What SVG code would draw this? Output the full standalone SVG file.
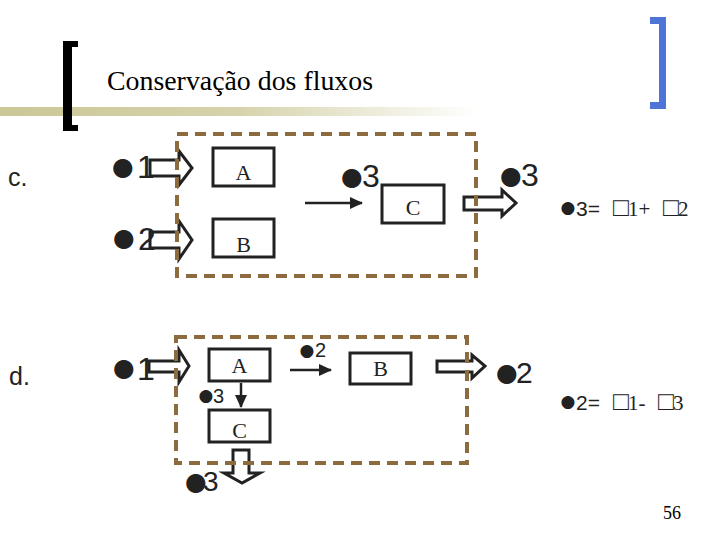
<svg xmlns="http://www.w3.org/2000/svg" width="720" height="540" viewBox="0 0 720 540">
<defs>
<linearGradient id="bar" x1="0" y1="0" x2="480" y2="0" gradientUnits="userSpaceOnUse">
<stop offset="0" stop-color="#CBC797"/>
<stop offset="0.5" stop-color="#D6D3AC"/>
<stop offset="1" stop-color="#FFFFFF"/>
</linearGradient>
<marker id="ah" markerUnits="userSpaceOnUse" markerWidth="13" markerHeight="12" refX="12" refY="6" orient="auto">
<path d="M0,0 L13,6 L0,12 Z" fill="#222"/>
</marker>
<style>
.box{fill:#fff;stroke:#222;stroke-width:3}
.blk{fill:#fff;stroke:#222;stroke-width:3;stroke-linejoin:miter}
.thin{stroke:#222;stroke-width:2.5;fill:none}
.dash{fill:none;stroke:#8C6B3E;stroke-width:4;stroke-dasharray:11 7}
.lbl{font-family:"Liberation Serif",serif;font-size:22px;fill:#222;text-anchor:middle}
.dot{font-family:"DejaVu Sans",sans-serif;fill:#222;text-anchor:middle}
.num{font-family:"Liberation Sans",Arial,sans-serif;fill:#222}
.ser{font-family:"Liberation Serif",serif;fill:#222}
</style>
</defs>
<rect width="720" height="540" fill="#fff"/>
<!-- header -->
<rect x="0" y="107" width="480" height="9" fill="url(#bar)"/>
<path d="M63,41 H78 V47 H72 V125 H78 V131 H63 Z" fill="#000"/>
<path d="M650,17 H666 V109 H650 V102 H659 V24 H650 Z" fill="#4F74D8"/>
<text x="107" y="90" font-family="Liberation Serif,serif" font-size="27" textLength="266" lengthAdjust="spacingAndGlyphs" fill="#000">Conservação dos fluxos</text>
<text x="8" y="186" class="num" font-size="25">c.</text>
<text x="9" y="385" class="num" font-size="25">d.</text>

<g id="connectors">
<path class="blk" d="M150,160 H179 V151 L192,168 L179,185 V176 H150 Z"/>
<path class="blk" d="M150,232 H179 V221 L192,240 L179,259 V248 H150 Z"/>
<path class="blk" d="M464,197 H502 V190 L516,203 L502,216 V210 H464 Z"/>
<line class="thin" x1="305" y1="203" x2="362" y2="203" marker-end="url(#ah)"/>
<path class="blk" d="M149,361 H179 V350 L189,366 L179,382 V372 H149 Z"/>
<path class="blk" d="M437,361 H472 V355 L485,366 L472,378 V372 H437 Z"/>
<path class="blk" d="M233,450 H249 V473 H260 L242,483 L224,473 H233 Z"/>
<line class="thin" x1="290" y1="370" x2="331" y2="370" marker-end="url(#ah)"/>
<line class="thin" x1="241" y1="383" x2="241" y2="407" marker-end="url(#ah)"/>
</g>

<g id="nodeA_c"><rect class="box" x="213" y="148" width="61" height="38"/><text class="lbl" x="243.5" y="180">A</text></g>
<g id="nodeB_c"><rect class="box" x="213" y="219" width="61" height="38"/><text class="lbl" x="243.5" y="252">B</text></g>
<g id="nodeC_c"><rect class="box" x="382" y="185" width="62" height="38"/><text class="lbl" x="413" y="215">C</text></g>
<g id="nodeA_d"><rect class="box" x="209" y="349" width="61" height="32"/><text class="lbl" x="239.5" y="373">A</text></g>
<g id="nodeB_d"><rect class="box" x="350" y="353" width="61" height="31"/><text class="lbl" x="380.5" y="376">B</text></g>
<g id="nodeC_d"><rect class="box" x="209" y="410" width="61" height="32"/><text class="lbl" x="239.5" y="438">C</text></g>

<g id="system_c"><rect class="dash" x="177" y="134" width="299" height="142"/></g>
<g id="system_d"><rect class="dash" x="176" y="337" width="291" height="126"/></g>

<g id="flow_labels">
<text><tspan class="dot" x="123" y="175" font-size="25">●</tspan><tspan class="num" x="137" y="178" font-size="32">1</tspan></text>
<text><tspan class="dot" x="124" y="246" font-size="25">●</tspan><tspan class="num" x="138" y="250" font-size="32">2</tspan></text>
<text><tspan class="dot" x="352" y="185" font-size="25">●</tspan><tspan class="num" x="362" y="187" font-size="32">3</tspan></text>
<text><tspan class="dot" x="511" y="184" font-size="25">●</tspan><tspan class="num" x="521" y="186" font-size="32">3</tspan></text>
<text><tspan class="dot" x="124" y="376" font-size="25">●</tspan><tspan class="num" x="137" y="380" font-size="32">1</tspan></text>
<text><tspan class="dot" x="307" y="356" font-size="17">●</tspan><tspan class="num" x="315" y="357" font-size="20">2</tspan></text>
<text><tspan class="dot" x="206" y="401" font-size="17">●</tspan><tspan class="num" x="213" y="403" font-size="20">3</tspan></text>
<text><tspan class="dot" x="196" y="490" font-size="25">●</tspan><tspan class="num" x="203" y="491" font-size="28">3</tspan></text>
<text><tspan class="dot" x="507" y="381" font-size="25">●</tspan><tspan class="num" x="516" y="383" font-size="30">2</tspan></text>
</g>

<g id="equations">
<text y="216" font-size="21"><tspan class="dot" x="568" y="213" font-size="17">●</tspan><tspan class="num" x="576" y="216">3=</tspan><tspan class="num" x="613" font-size="26">□</tspan><tspan class="ser" x="628">1+</tspan><tspan class="num" x="663" font-size="26">□</tspan><tspan class="ser" x="678">2</tspan></text>
<text y="410" font-size="21"><tspan class="dot" x="568" y="407" font-size="17">●</tspan><tspan class="num" x="576" y="410">2=</tspan><tspan class="num" x="613" font-size="26">□</tspan><tspan class="ser" x="628">1-</tspan><tspan class="num" x="658" font-size="26">□</tspan><tspan class="ser" x="673">3</tspan></text>
</g>

<text x="663" y="519" font-family="Liberation Serif,serif" font-size="18" fill="#000">56</text>
</svg>
